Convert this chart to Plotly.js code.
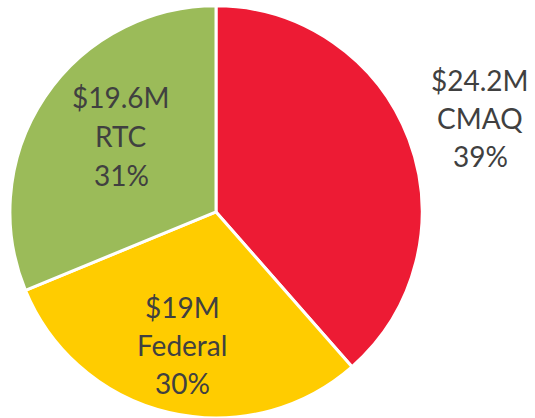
<!DOCTYPE html>
<html><head><meta charset="utf-8">
<script src="https://cdn.plot.ly/plotly-3.0.1.min.js"></script>
<style>html,body{margin:0;padding:0;background:#fff;}#chart{width:535px;height:418px;}</style>
</head><body><div id="chart"></div>
<script>
const categories = ["CMAQ", "Federal", "RTC"];
const amounts = [24.2, 19.0, 19.6];
const amountLabels = ["$24.2M", "$19M", "$19.6M"];
const percentLabels = ["39%", "30%", "31%"];
const colors = ["#ED1B34", "#FFCC00", "#9BBB59"];

const W = 535, H = 418;
// label block placement (pixels: x center, first-line y, line spacing)
const labelPos = [[480, 80, 38], [182, 307, 38], [121, 97, 39]];
const font = { family: "Lato, 'Open Sans', sans-serif", size: 28, color: "#404040" };

const annotations = [];
categories.forEach((c, i) => {
  const lines = [amountLabels[i], c, percentLabels[i]];
  const [px, py, dy] = labelPos[i];
  lines.forEach((t, k) => {
    annotations.push({
      xref: "paper", yref: "paper",
      x: px / W, y: 1 - (py + k * dy) / H,
      xanchor: "center", yanchor: "middle",
      text: t, showarrow: false, font: font
    });
  });
});

const trace = {
  type: "pie",
  values: amounts,
  labels: categories,
  textinfo: "none",
  hoverinfo: "label+value+percent",
  sort: false,
  direction: "clockwise",
  rotation: 0,
  marker: { colors: colors, line: { color: "#ffffff", width: 3 } },
  domain: { x: [0, 0.8075], y: [0, 0.986] },
  showlegend: false
};

Plotly.newPlot("chart", [trace], {
  width: W, height: H,
  margin: { l: 0, r: 0, t: 0, b: 0 },
  paper_bgcolor: "#ffffff",
  showlegend: false,
  annotations: annotations
}, { displayModeBar: false, staticPlot: true });
</script></body></html>
